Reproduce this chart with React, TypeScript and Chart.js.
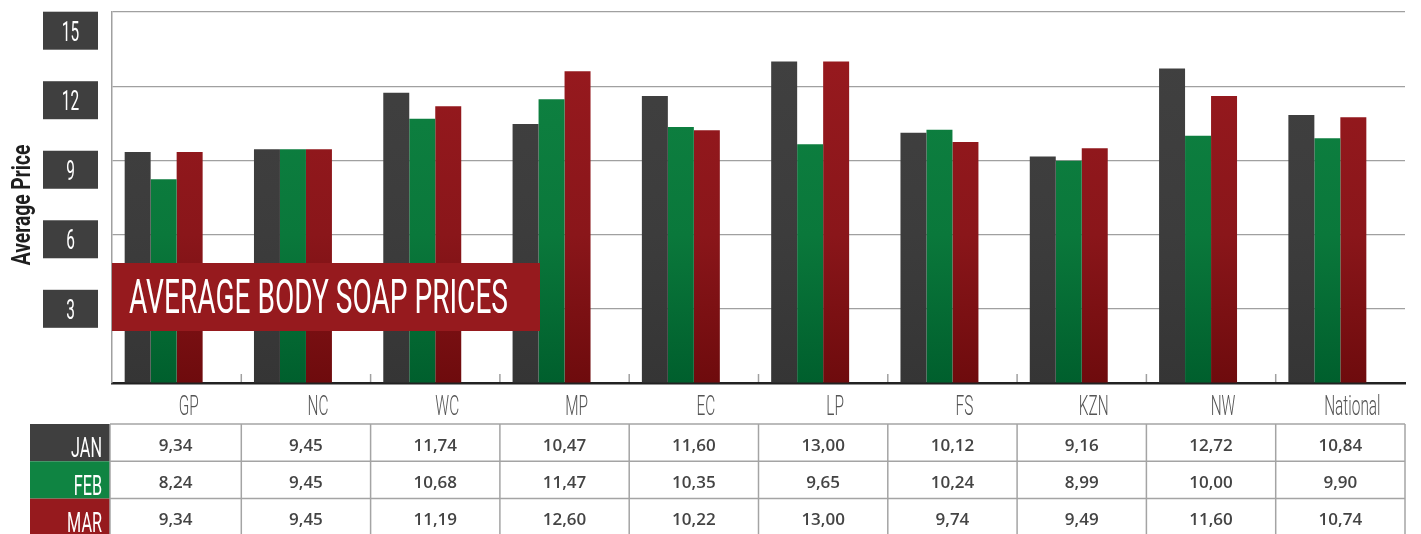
import React, { useEffect, useRef } from "react";
import { Chart, registerables } from "chart.js";

Chart.register(...registerables);

const categories = ["GP", "NC", "WC", "MP", "EC", "LP", "FS", "KZN", "NW", "National"];
const monthLabels = ["JAN", "FEB", "MAR"];
const janValues = [9.34, 9.45, 11.74, 10.47, 11.6, 13.0, 10.12, 9.16, 12.72, 10.84];
const febValues = [8.24, 9.45, 10.68, 11.47, 10.35, 9.65, 10.24, 8.99, 10.0, 9.9];
const marValues = [9.34, 9.45, 11.19, 12.6, 10.22, 13.0, 9.74, 9.49, 11.6, 10.74];
const yTickLabels = [3, 6, 9, 12, 15];
const chartTitle = "AVERAGE BODY SOAP PRICES";
const yAxisTitle = "Average Price";

const flatColors = ["#3f3f3f", "#0f8442", "#961a1e"];
const gradStops: string[][] = [
  ["#414141", "#3c3c3c", "#353535"],
  ["#108443", "#0a783b", "#005f2d"],
  ["#9a1a1f", "#8a161a", "#6e0b0d"],
];

function gradient(idx: number) {
  return (c: any) => {
    const chart = c.chart;
    const ca = chart.chartArea;
    if (!ca) return flatColors[idx];
    const g = chart.ctx.createLinearGradient(0, ca.top, 0, ca.bottom);
    g.addColorStop(0, gradStops[idx][0]);
    g.addColorStop(0.6, gradStops[idx][1]);
    g.addColorStop(1, gradStops[idx][2]);
    return g;
  };
}

function condText(ctx: CanvasRenderingContext2D, text: string, x: number, y: number, sx: number, align: CanvasTextAlign) {
  ctx.save();
  ctx.translate(x, y);
  ctx.scale(sx, 1);
  ctx.textAlign = align;
  ctx.fillText(text, 0, 0);
  ctx.restore();
}

const fmt = (v: number) => v.toFixed(2).replace(".", ",");

const decorPlugin = {
  id: "decor",
  afterDraw(chart: any) {
    const ctx: CanvasRenderingContext2D = chart.ctx;
    const ca = chart.chartArea;
    const xs = chart.scales.x;
    const ys = chart.scales.y;
    ctx.save();

    // x tick marks between categories (inside plot)
    ctx.strokeStyle = "#a0a0a0";
    ctx.lineWidth = 1.5;
    for (let i = 0; i < categories.length - 1; i++) {
      const bx = (xs.getPixelForValue(i) + xs.getPixelForValue(i + 1)) / 2;
      ctx.beginPath();
      ctx.moveTo(bx, ca.bottom - 9);
      ctx.lineTo(bx, ca.bottom - 1);
      ctx.stroke();
    }

    // y tick label boxes
    ctx.textBaseline = "alphabetic";
    yTickLabels.forEach((v) => {
      const cy = ys.getPixelForValue(3 + (v - 3) * 0.937);
      ctx.fillStyle = "#3f3f3f";
      ctx.fillRect(43, cy - 19, 55, 38);
      ctx.fillStyle = "#ffffff";
      ctx.font = "400 28px Roboto";
      condText(ctx, String(v), 70.5, cy + 10, 0.55, "center");
    });

    // y axis title
    ctx.save();
    ctx.translate(30, 205);
    ctx.rotate(-Math.PI / 2);
    ctx.fillStyle = "#1e1e1e";
    ctx.font = "700 26px Roboto";
    ctx.scale(0.74, 1);
    ctx.textAlign = "center";
    ctx.fillText(yAxisTitle, 0, 0);
    ctx.restore();

    // x labels
    ctx.fillStyle = "#555555";
    ctx.font = "300 28px Roboto";
    categories.forEach((c, i) => {
      condText(ctx, c, xs.getPixelForValue(i) + 12, 415, 0.55, "center");
    });

    // title box
    ctx.fillStyle = "#961a1e";
    ctx.fillRect(ca.left, 263, 428, 68);
    ctx.fillStyle = "#ffffff";
    ctx.font = "400 49px Roboto";
    const w = ctx.measureText(chartTitle).width;
    condText(ctx, chartTitle, 129, 313, 379 / w, "left");

    // table
    const rowTop = 424;
    const rowH = 37.3;
    const tLeft = 110;
    const tRight = ca.right;
    const series = [janValues, febValues, marValues];
    monthLabels.forEach((m, r) => {
      ctx.fillStyle = flatColors[r];
      ctx.fillRect(30, rowTop + r * rowH, tLeft - 30, rowH);
      ctx.fillStyle = "#ffffff";
      ctx.font = "400 28px Roboto";
      condText(ctx, m, 102, rowTop + r * rowH + 33.3, 0.58, "right");
    });
    ctx.strokeStyle = "#a4a4a4";
    ctx.lineWidth = 1.5;
    for (let r = 0; r <= 3; r++) {
      const y = rowTop + r * rowH;
      ctx.beginPath();
      ctx.moveTo(tLeft, y);
      ctx.lineTo(tRight, y);
      ctx.stroke();
    }
    const bounds: number[] = [tLeft];
    for (let i = 0; i < categories.length - 1; i++) {
      bounds.push((xs.getPixelForValue(i) + xs.getPixelForValue(i + 1)) / 2);
    }
    bounds.push(tRight);
    bounds.forEach((bx) => {
      ctx.beginPath();
      ctx.moveTo(bx, rowTop);
      ctx.lineTo(bx, rowTop + 3 * rowH);
      ctx.stroke();
    });
    ctx.fillStyle = "#444444";
    ctx.font = "600 17px 'Open Sans'";
    ctx.textAlign = "center";
    series.forEach((vals, r) => {
      vals.forEach((v, i) => {
        const cx = (bounds[i] + bounds[i + 1]) / 2;
        ctx.fillText(fmt(v), cx, rowTop + r * rowH + 26.7);
      });
    });

    ctx.restore();
  },
};

export default function App() {
  const ref = useRef<HTMLCanvasElement | null>(null);
  useEffect(() => {
    document.body.style.margin = "0";
    if (!ref.current) return;
    const chart = new Chart(ref.current, {
      type: "bar",
      data: {
        labels: categories,
        datasets: [
          { label: monthLabels[0], data: janValues, backgroundColor: gradient(0) },
          { label: monthLabels[1], data: febValues, backgroundColor: gradient(1) },
          { label: monthLabels[2], data: marValues, backgroundColor: gradient(2) },
          { label: "", data: categories.map(() => null), backgroundColor: "rgba(0,0,0,0)" },
        ],
      },
      options: {
        responsive: false,
        animation: false,
        layout: { padding: { left: 112, right: 16, top: 12, bottom: 151 } },
        datasets: { bar: { categoryPercentage: 0.804, barPercentage: 1.0 } },
        plugins: { legend: { display: false }, tooltip: { enabled: false }, title: { display: false } },
        scales: {
          x: {
            grid: { display: false, drawTicks: false },
            ticks: { display: false },
            border: { display: true, color: "#222222", width: 2.5 },
            afterFit: (s: any) => { s.height = 0; },
          },
          y: {
            min: 0,
            max: 15,
            ticks: { display: false, stepSize: 3 },
            grid: { color: "#a0a0a0", lineWidth: 1.2, drawTicks: false },
            border: { display: true, color: "#a0a0a0", width: 1.5 },
            afterFit: (s: any) => { s.width = 0; },
          },
        },
      },
      plugins: [decorPlugin],
    });
    return () => chart.destroy();
  }, []);
  return (
    <div style={{ width: 1421, height: 534, background: "#ffffff" }}>
      <canvas ref={ref} width={1421} height={534} style={{ display: "block", width: 1421, height: 534 }} />
    </div>
  );
}
